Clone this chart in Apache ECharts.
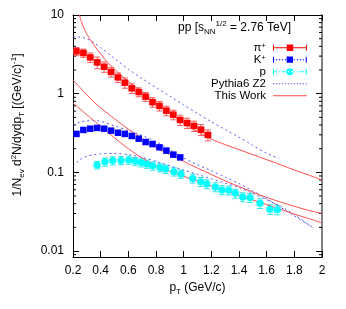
<!DOCTYPE html>
<html><head><meta charset="utf-8">
<script src="https://cdn.jsdelivr.net/npm/echarts@6/dist/echarts.min.js"></script>
<style>html,body{margin:0;padding:0;background:#fff}#c{width:346px;height:309px}</style>
</head><body><div id="c"></div>
<script>
// ---- data ----
const pionPt  = [0.225,0.275,0.325,0.375,0.425,0.475,0.525,0.575,0.625,0.675,0.725,0.775,0.825,0.875,0.925,0.975,1.025,1.075,1.125,1.175];
const pionVal = [3.45,3.29,2.89,2.50,2.20,1.89,1.61,1.38,1.17,1.05,0.916,0.78,0.70,0.608,0.541,0.463,0.424,0.389,0.349,0.299];
const pionErr = [0.12,0.12,0.14,0.17,0.15,0.14,0.14,0.15,0.14,0.13,0.13,0.14,0.14,0.14,0.14,0.15,0.15,0.15,0.16,0.16];
const pionSys = [0.07,0.07,0.07,0.08,0.08,0.07,0.07,0.08,0.07,0.07,0.07,0.08,0.08,0.07,0.07,0.08,0.08,0.08,0.08,0.08];

const kaonPt  = [0.225,0.275,0.325,0.375,0.425,0.475,0.525,0.575,0.625,0.675,0.725,0.775,0.825,0.875,0.925,0.975];
const kaonVal = [0.308,0.346,0.359,0.367,0.359,0.339,0.319,0.308,0.290,0.268,0.243,0.229,0.208,0.189,0.168,0.155];
const kaonErr = [0.03,0.03,0.03,0.03,0.03,0.03,0.03,0.03,0.03,0.03,0.03,0.03,0.03,0.03,0.03,0.03];

const protonPt  = [0.374,0.431,0.487,0.547,0.603,0.65,0.694,0.733,0.776,0.829,0.870,0.930,0.981,1.065,1.123,1.167,1.229,1.277,1.326,1.374,1.427,1.48,1.552,1.624,1.677];
const protonVal = [0.124,0.136,0.141,0.142,0.144,0.138,0.133,0.128,0.121,0.115,0.110,0.102,0.0956,0.0838,0.0762,0.0712,0.0652,0.0598,0.0593,0.0541,0.0487,0.0476,0.0404,0.0339,0.0335];
const protonErr = [0.11,0.12,0.12,0.12,0.12,0.12,0.12,0.12,0.12,0.12,0.12,0.12,0.12,0.13,0.13,0.13,0.13,0.13,0.13,0.13,0.13,0.13,0.14,0.14,0.14];
const protonSys = [0.06,0.06,0.06,0.06,0.06,0.06,0.06,0.06,0.06,0.06,0.06,0.06,0.06,0.07,0.07,0.07,0.07,0.07,0.07,0.07,0.07,0.07,0.08,0.08,0.08];

const twPionPt  = [0.245,0.26,0.28,0.3,0.35,0.4,0.45,0.5,0.6,0.7,0.8,0.9,1.0,1.1,1.2,1.3,1.4,1.5,1.6,1.7,1.8,1.9,2.0];
const twPionVal = [10.2,8.3,6.7,5.7,4.2,3.2,2.5,2.05,1.43,1.05,0.755,0.56,0.42,0.33,0.265,0.225,0.195,0.168,0.145,0.125,0.107,0.093,0.080];
const twKaonPt  = [0.2,0.25,0.3,0.35,0.4,0.5,0.6,0.7,0.8,0.9,1.0,1.1,1.2,1.3,1.4,1.5,1.6,1.7,1.8,1.9,2.0];
const twKaonVal = [1.5,1.2,0.97,0.79,0.66,0.48,0.355,0.27,0.206,0.168,0.138,0.113,0.094,0.078,0.066,0.056,0.048,0.042,0.037,0.033,0.030];
const twProtonPt  = [0.2,0.25,0.3,0.35,0.4,0.5,0.6,0.7,0.8,0.9,1.0,1.1,1.2,1.3,1.4,1.5,1.6,1.7,1.8,1.9,2.0];
const twProtonVal = [0.76,0.64,0.54,0.455,0.385,0.275,0.2,0.152,0.122,0.103,0.089,0.077,0.067,0.058,0.051,0.0445,0.039,0.034,0.0295,0.026,0.0228];

const pyPionPt  = [0.2,0.25,0.3,0.35,0.4,0.5,0.6,0.7,0.8,0.9,1.0,1.1,1.2,1.3,1.4,1.5,1.6,1.69];
const pyPionVal = [5.3,5.25,5.0,4.45,3.85,2.8,2.05,1.55,1.2,0.93,0.72,0.56,0.44,0.35,0.28,0.22,0.175,0.15];
const pyKaonPt  = [0.2,0.25,0.3,0.35,0.4,0.5,0.6,0.7,0.8,0.9,1.0,1.1,1.2,1.3,1.4,1.5,1.6,1.7,1.8,1.93];
const pyKaonVal = [0.40,0.435,0.45,0.455,0.445,0.39,0.34,0.295,0.245,0.195,0.152,0.125,0.105,0.087,0.072,0.058,0.046,0.036,0.028,0.020];
const pyProtonPt  = [0.2,0.25,0.3,0.35,0.4,0.5,0.6,0.7,0.8,0.9,1.0,1.1,1.2,1.3,1.4,1.5,1.6,1.7,1.8,1.93];
const pyProtonVal = [0.12,0.145,0.16,0.168,0.172,0.174,0.168,0.155,0.138,0.121,0.107,0.094,0.083,0.073,0.064,0.054,0.045,0.037,0.029,0.020];

const yMinorTicks = [0.009,0.02,0.03,0.04,0.05,0.06,0.07,0.08,0.09,0.2,0.3,0.4,0.5,0.6,0.7,0.8,0.9,2,3,4,5,6,7,8,9];

// ---- styling ----
const FONT = 'Liberation Sans, Arial, Helvetica, sans-serif';
const RED = '#ff0000', BLUE = '#0000ff', CYAN = '#00ffff';
const TW_RED = '#ff4d4d', PY_BLUE = '#5a5af0';
const zip = (a, b) => a.map((v, i) => [v, b[i]]);

function iconPath(kind, marker) {
  let p = '';
  if (kind === 'solid') p += 'M0,3.5h34v1h-34z';
  else if (kind === 'dot') { for (let x = 0; x < 34; x += 3) p += `M${x},3.5h1.3v1h-1.3z`; }
  else { for (let x = 0; x < 34; x += 9) p += `M${x},3.5h${Math.min(4, 34 - x)}v1h-${Math.min(4, 34 - x)}z` + (x + 6 < 34 ? `M${x + 6},3.5h1.2v1h-1.2z` : ''); }
  if (marker) {
    p += 'M0,1h1v6h-1zM33,1h1v6h-1z';
    if (marker === 'circle') p += 'M13.5,4a3.5,3.5 0 1,0 7,0a3.5,3.5 0 1,0 -7,0z';
    else p += 'M13.8,0.8h6.4v6.4h-6.4z';
  }
  return 'path://' + p;
}

function errorSeries(pt, val, err, color, cap) {
  return {
    type: 'custom', silent: true, z: 3, clip: true,
    data: pt.map((p, i) => [p, val[i], err[i]]),
    renderItem(params, api) {
      const x = api.value(0), y = api.value(1), e = api.value(2);
      const t = api.coord([x, y * (1 + e)]), b = api.coord([x, y * (1 - e)]);
      const st = { stroke: color, lineWidth: 1 };
      return { type: 'group', children: [
        { type: 'line', shape: { x1: t[0], y1: t[1], x2: b[0], y2: b[1] }, style: st },
        { type: 'line', shape: { x1: t[0] - cap, y1: t[1], x2: t[0] + cap, y2: t[1] }, style: st },
        { type: 'line', shape: { x1: b[0] - cap, y1: b[1], x2: b[0] + cap, y2: b[1] }, style: st }
      ]};
    }
  };
}
function sysSeries(pt, val, sys, color) {
  return {
    type: 'custom', silent: true, z: 2, clip: true,
    data: pt.map((p, i) => [p, val[i], sys[i]]),
    renderItem(params, api) {
      const x = api.value(0), y = api.value(1), s = api.value(2);
      const t = api.coord([x, y * (1 + s)]), b = api.coord([x, y * (1 - s)]);
      return { type: 'rect', shape: { x: t[0] - 4, y: t[1], width: 8, height: b[1] - t[1] }, style: { fill: color } };
    }
  };
}

const chart = echarts.init(document.getElementById('c'), null, { renderer: 'canvas' });
const supRich = {
  n: { fontSize: 12, fontFamily: FONT, fontWeight: 'normal', color: '#000', lineHeight: 16 },
  sub: { fontSize: 8, fontFamily: FONT, fontWeight: 'normal', color: '#000', verticalAlign: 'bottom', lineHeight: 16 },
  sup: { fontSize: 8, fontFamily: FONT, fontWeight: 'normal', color: '#000', verticalAlign: 'top', lineHeight: 16 }
};

const lineBase = { type: 'line', symbol: 'none', showSymbol: false, smooth: 0.3, z: 4, silent: true };

chart.setOption({
  animation: false,
  grid: { left: 73, right: 24, top: 15, bottom: 52, containLabel: false, outerBoundsMode: 'none' },
  title: {
    text: '{n|pp [s}{sub|NN}{sup|1/2}{n| = 2.76 TeV]}',
    left: 178, top: 20, padding: 0,
    textStyle: { fontWeight: 'normal', rich: supRich }
  },
  legend: {
    orient: 'vertical', right: 39, top: 41.7, align: 'right',
    itemWidth: 34, itemHeight: 8, itemGap: 0, padding: 0, selectedMode: false,
    textStyle: {
      fontSize: 11.5, fontFamily: FONT, color: '#000', lineHeight: 12, padding: [0, 2, 0, 0],
      rich: {
        b: { fontSize: 11.5, fontFamily: FONT, color: '#000', lineHeight: 12 },
        s: { fontSize: 8, fontFamily: FONT, color: '#000', verticalAlign: 'top', lineHeight: 12 }
      }
    },
    formatter: name => name === 'π+' ? '{b|π}{s|+}' : name === 'K+' ? '{b|K}{s|+}' : '{b|' + name + '}',
    data: [
      { name: 'π+', icon: iconPath('solid', 'rect') },
      { name: 'K+', icon: iconPath('dot', 'rect') },
      { name: 'p', icon: iconPath('dashdot', 'circle') },
      { name: 'Pythia6 Z2', icon: iconPath('dot') },
      { name: 'This Work', icon: iconPath('solid') }
    ]
  },
  xAxis: [{
    type: 'value', min: 0.2, max: 2, interval: 0.2,
    name: '{n|p}{sub|T}{n| (GeV/c)}', nameLocation: 'middle', nameGap: 21,
    nameTextStyle: { rich: supRich },
    axisLine: { lineStyle: { color: '#000', width: 1 } },
    axisTick: { inside: true, length: 6, lineStyle: { color: '#000' } },
    axisLabel: { fontSize: 12, fontFamily: FONT, color: '#000', margin: 8 },
    splitLine: { show: false }
  }, {
    type: 'value', min: 0.2, max: 2, interval: 0.2, position: 'top',
    axisLine: { lineStyle: { color: '#000', width: 1 } },
    axisTick: { inside: true, length: 6, lineStyle: { color: '#000' } },
    axisLabel: { show: false }, splitLine: { show: false }
  }],
  yAxis: [{
    type: 'log', logBase: 10, min: 0.0084, max: 10,
    name: '{n|1/N}{sub|ev}{n| d}{sup|2}{n|N/dydp}{sub|T}{n| [(GeV/c)}{sup|-1}{n|]}',
    nameLocation: 'middle', nameRotate: 90, nameGap: 47,
    nameTextStyle: { rich: supRich, padding: [0, 0, 0, 22] },
    axisLine: { lineStyle: { color: '#000', width: 1 } },
    axisTick: { inside: true, length: 6, lineStyle: { color: '#000' } },
    axisLabel: { fontSize: 12, fontFamily: FONT, color: '#000', margin: 9, showMinLabel: false },
    splitLine: { show: false }
  }, {
    type: 'log', logBase: 10, min: 0.0084, max: 10, position: 'right',
    axisLine: { lineStyle: { color: '#808080', width: 2 } },
    axisTick: { inside: true, length: 6, lineStyle: { color: '#000' } },
    axisLabel: { show: false }, splitLine: { show: false }
  }],
  series: [
    {
      type: 'custom', silent: true, z: 1, clip: false,
      data: yMinorTicks.map(v => [0.2, v]),
      renderItem(params, api) {
        const v = api.value(1);
        const l = api.coord([0.2, v]), r = api.coord([2, v]);
        const st = { stroke: '#000', lineWidth: 1 };
        return { type: 'group', children: [
          { type: 'line', shape: { x1: l[0], y1: l[1], x2: l[0] + 3, y2: l[1] }, style: st },
          { type: 'line', shape: { x1: r[0] - 3, y1: r[1], x2: r[0], y2: r[1] }, style: st }
        ]};
      }
    },
    sysSeries(pionPt, pionVal, pionSys, '#ffb3b3'),
    sysSeries(protonPt, protonVal, protonSys, '#b3ffff'),
    errorSeries(pionPt, pionVal, pionErr, '#f25c5c', 3),
    errorSeries(kaonPt, kaonVal, kaonErr, '#6b6bff', 3),
    errorSeries(protonPt, protonVal, protonErr, '#33e6e6', 3),
    Object.assign({}, lineBase, { name: 'Pythia6 Z2', data: zip(pyPionPt, pyPionVal), lineStyle: { color: PY_BLUE, width: 1, type: [2, 3] }, itemStyle: { color: PY_BLUE } }),
    Object.assign({}, lineBase, { name: 'Pythia6 Z2', data: zip(pyKaonPt, pyKaonVal), lineStyle: { color: PY_BLUE, width: 1, type: [2, 3] }, itemStyle: { color: PY_BLUE } }),
    Object.assign({}, lineBase, { name: 'Pythia6 Z2', data: zip(pyProtonPt, pyProtonVal), lineStyle: { color: PY_BLUE, width: 1, type: [2, 3] }, itemStyle: { color: PY_BLUE } }),
    Object.assign({}, lineBase, { name: 'This Work', data: zip(twPionPt, twPionVal), lineStyle: { color: TW_RED, width: 1 }, itemStyle: { color: TW_RED } }),
    Object.assign({}, lineBase, { name: 'This Work', data: zip(twKaonPt, twKaonVal), lineStyle: { color: TW_RED, width: 1 }, itemStyle: { color: TW_RED } }),
    Object.assign({}, lineBase, { name: 'This Work', data: zip(twProtonPt, twProtonVal), lineStyle: { color: TW_RED, width: 1 }, itemStyle: { color: TW_RED } }),
    { type: 'scatter', name: 'π+', symbol: 'rect', symbolSize: 6.5, z: 6, silent: true, data: zip(pionPt, pionVal), itemStyle: { color: RED, opacity: 1 } },
    { type: 'scatter', name: 'K+', symbol: 'rect', symbolSize: 6.5, z: 6, silent: true, data: zip(kaonPt, kaonVal), itemStyle: { color: BLUE, opacity: 1 } },
    { type: 'scatter', name: 'p', symbol: 'circle', symbolSize: 7, z: 6, silent: true, data: zip(protonPt, protonVal), itemStyle: { color: CYAN, opacity: 1 } }
  ]
});
</script></body></html>
